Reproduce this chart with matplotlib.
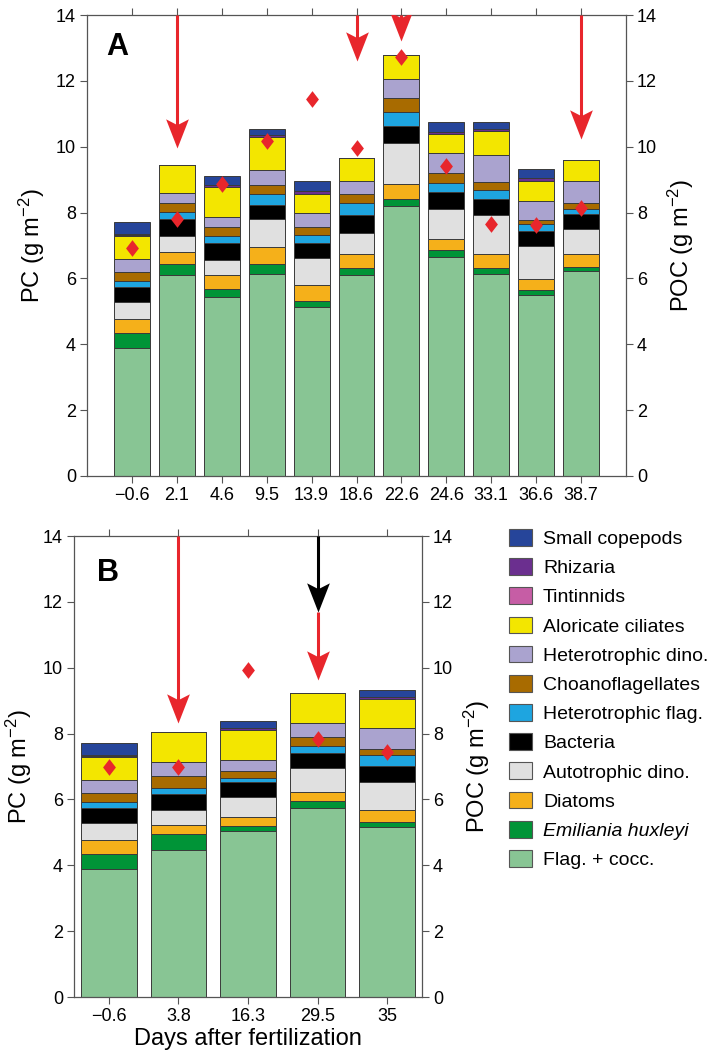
import numpy as np
import matplotlib
matplotlib.use('Agg')
import matplotlib.pyplot as plt
from matplotlib.patches import Patch

plt.rcParams['font.family'] = ['Liberation Sans', 'DejaVu Sans']
plt.rcParams['mathtext.fontset'] = 'custom'
plt.rcParams['mathtext.rm'] = 'Liberation Sans'
plt.rcParams['mathtext.it'] = 'Liberation Sans:italic'

# Data
groups = ['Flag. + cocc.', 'Emiliania huxleyi', 'Diatoms', 'Autotrophic dino.', 'Bacteria',
          'Heterotrophic flag.', 'Choanoflagellates', 'Heterotrophic dino.', 'Aloricate ciliates',
          'Tintinnids', 'Rhizaria', 'Small copepods']
colors = ['#88c594', '#009437', '#f5b01a', '#e0e0e0', '#000000', '#1ea5e0',
          '#a86b00', '#aaa3cf', '#f3e600', '#c65da5', '#6b2f8f', '#26459a']

days_a = ['\u22120.6', '2.1', '4.6', '9.5', '13.9', '18.6', '22.6', '24.6', '33.1', '36.6', '38.7']
# one row per group (bottom to top), one column per day
pc_a = np.array([
    [3.88, 6.11, 5.43, 6.13, 5.13, 6.11, 8.19, 6.65, 6.14, 5.51, 6.24],
    [0.47, 0.33, 0.25, 0.31, 0.18, 0.21, 0.22, 0.22, 0.18, 0.15, 0.12],
    [0.42, 0.37, 0.42, 0.51, 0.50, 0.41, 0.47, 0.32, 0.41, 0.32, 0.37],
    [0.52, 0.49, 0.47, 0.84, 0.81, 0.65, 1.23, 0.93, 1.20, 1.00, 0.77],
    [0.45, 0.50, 0.51, 0.45, 0.46, 0.55, 0.53, 0.50, 0.49, 0.47, 0.46],
    [0.17, 0.21, 0.22, 0.31, 0.23, 0.36, 0.41, 0.28, 0.28, 0.21, 0.15],
    [0.30, 0.28, 0.25, 0.29, 0.26, 0.26, 0.42, 0.30, 0.23, 0.12, 0.18],
    [0.37, 0.31, 0.31, 0.45, 0.43, 0.42, 0.58, 0.61, 0.83, 0.57, 0.66],
    [0.72, 0.84, 0.93, 0.99, 0.55, 0.69, 0.74, 0.57, 0.72, 0.61, 0.65],
    [0.01, 0.00, 0.00, 0.00, 0.02, 0.00, 0.00, 0.00, 0.00, 0.00, 0.00],
    [0.05, 0.00, 0.05, 0.07, 0.08, 0.00, 0.00, 0.07, 0.07, 0.08, 0.00],
    [0.36, 0.00, 0.28, 0.20, 0.31, 0.00, 0.00, 0.31, 0.19, 0.29, 0.00],
])
poc_a = [6.92, 7.81, 8.87, 10.18, 11.44, 9.95, 12.71, 9.40, 7.64, 7.62, 8.13]

days_b = ['\u22120.6', '3.8', '16.3', '29.5', '35']
pc_b = np.array([
    [3.88, 4.47, 5.03, 5.75, 5.15],
    [0.47, 0.48, 0.17, 0.19, 0.15],
    [0.42, 0.27, 0.28, 0.28, 0.38],
    [0.52, 0.46, 0.59, 0.73, 0.85],
    [0.45, 0.47, 0.45, 0.46, 0.50],
    [0.17, 0.21, 0.13, 0.22, 0.33],
    [0.30, 0.34, 0.20, 0.26, 0.18],
    [0.37, 0.43, 0.35, 0.43, 0.63],
    [0.72, 0.92, 0.92, 0.91, 0.89],
    [0.01, 0.00, 0.00, 0.00, 0.00],
    [0.05, 0.00, 0.05, 0.00, 0.06],
    [0.36, 0.00, 0.22, 0.00, 0.21],
])
poc_b = [6.98, 6.98, 9.92, 7.83, 7.44]

# arrows: (bar index, start, end, colour)
arrows_a = [(1, 14, 9.96, '#e8262c'), (5, 14, 12.6, '#e8262c'),
            (6, 14, 13.2, '#e8262c'), (10, 14, 10.23, '#e8262c')]
arrows_b = [(1, 14, 8.32, '#e8262c'), (3, 14, 11.69, 'black'), (3, 11.69, 9.62, '#e8262c')]

diamond = [(0, 1), (0.77, 0), (0, -1), (-0.77, 0), (0, 1)]
# downward arrow head with notched back, tip at the marker origin
head = [(0, 0), (-0.39, 1), (0, 0.8), (0.39, 1), (0, 0)]


def panel(ax, labels, pc, poc, arrows, letter, lx, ly, pad):
    x = np.arange(len(labels))
    bottom = np.zeros(len(labels))
    for vals, c in zip(pc, colors):
        ax.bar(x, vals, 0.8, bottom=bottom, color=c, edgecolor='#3a3a3a', linewidth=0.7, zorder=2)
        bottom = bottom + vals
    for i, y0, y1, c in arrows:
        ax.plot([i, i], [y0, y1 + 0.15], color=c, lw=2.2, solid_capstyle='butt', zorder=4)
    for i, y0, y1, c in arrows:
        ax.plot([i], [y1], ls='none', marker=head, ms=42, color=c, mec='none', zorder=5)
    ax.plot(x, poc, ls='none', marker=diamond, ms=12, color='#e8262c', mec='none', zorder=6)
    ax.set_xlim(-0.5 - pad, len(labels) - 0.5 + pad)
    ax.set_ylim(0, 14)
    ax.set_yticks(range(0, 15, 2))
    ax.set_xticks(x)
    ax.set_xticklabels(labels)
    ax.tick_params(direction='out', length=5, width=0.8, color='#555555', labelsize=13,
                   top=True, pad=3)
    for s in ax.spines.values():
        s.set_color('#555555')
        s.set_linewidth(0.9)
    ax.set_ylabel('PC (g m$^{-2}$)', fontsize=17, labelpad=6)
    ax.text(lx, ly, letter, transform=ax.transAxes, fontsize=22, fontweight='bold', va='center')
    ax2 = ax.twinx()
    ax2.set_ylim(0, 14)
    ax2.set_yticks(range(0, 15, 2))
    ax2.tick_params(direction='out', length=5, width=0.8, color='#555555', labelsize=13, pad=3)
    for s in ax2.spines.values():
        s.set_visible(False)
    ax2.set_ylabel('POC (g m$^{-2}$)', fontsize=17, labelpad=6)
    return ax


W, H = 723, 1062
fig = plt.figure(figsize=(W / 100, H / 100), dpi=100)
ax_a = fig.add_axes([87 / W, 1 - 476 / H, (626 - 87) / W, 461 / H])
ax_b = fig.add_axes([74 / W, 1 - 997 / H, (422 - 74) / W, 461 / H])

panel(ax_a, days_a, pc_a, poc_a, arrows_a, 'A', 0.035, 0.931, 0.5)
panel(ax_b, days_b, pc_b, poc_b, arrows_b, 'B', 0.066, 0.92, 0.0)
ax_b.set_xlabel('Days after fertilization', fontsize=17, labelpad=2)

handles = [Patch(facecolor=c, edgecolor='#555555', linewidth=0.8) for c in colors][::-1]
leg = fig.legend(handles, groups[::-1], loc='upper left',
                 bbox_to_anchor=(509 / W, 1 - 529 / H), frameon=False, fontsize=14,
                 borderpad=0, borderaxespad=0, handlelength=1.2, handleheight=0.95,
                 handletextpad=0.55, labelspacing=0.52)
leg.get_texts()[10].set_fontstyle('italic')

fig.savefig('out.png', dpi=100)
